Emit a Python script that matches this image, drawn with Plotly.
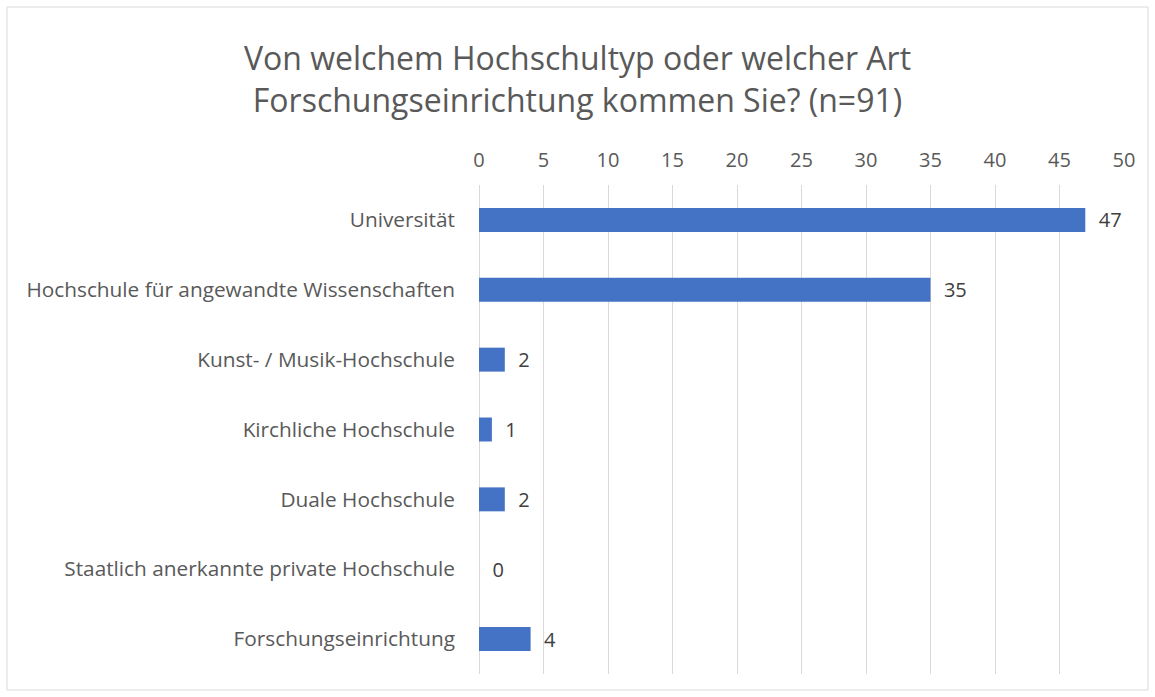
import plotly.graph_objects as go

categories = [
    "Universität",
    "Hochschule für angewandte Wissenschaften",
    "Kunst- / Musik-Hochschule",
    "Kirchliche Hochschule",
    "Duale Hochschule",
    "Staatlich anerkannte private Hochschule",
    "Forschungseinrichtung",
]
values = [47, 35, 2, 1, 2, 0, 4]
x_ticks = [0, 5, 10, 15, 20, 25, 30, 35, 40, 45, 50]
title_text = "Von welchem Hochschultyp oder welcher Art<br>Forschungseinrichtung kommen Sie? (n=91)"

FONT = "Open Sans"
GREY = "#595959"

fig = go.Figure(
    go.Bar(
        x=values,
        y=categories,
        orientation="h",
        marker=dict(color="#4472C4", line=dict(width=0)),
        text=values,
        texttemplate="\u00a0\u00a0%{x}",
        textposition="outside",
        constraintext="none",
        textfont=dict(family=FONT, size=20, color="#404040"),
        cliponaxis=False,
        hoverinfo="skip",
    )
)

W, H = 1155, 697
L, R, T, B = 479, 1124, 185, 674

def px(xp):
    return (xp - L) / (R - L)

def py(yp):
    return (B - yp) / (B - T)

fig.update_layout(
    width=W,
    height=H,
    margin=dict(l=L, r=W - R, t=T, b=H - B, autoexpand=False),
    paper_bgcolor="white",
    plot_bgcolor="white",
    bargap=0.657,
    showlegend=False,
    font=dict(family=FONT, color=GREY),
    title=dict(
        text=title_text,
        x=0.5,
        xref="container",
        xanchor="center",
        y=1 - 70 / H,
        yref="container",
        yanchor="top",
        font=dict(family=FONT, size=32, color=GREY),
    ),
    xaxis=dict(
        side="top",
        range=[0, 50],
        tickvals=x_ticks,
        showgrid=True,
        gridcolor="#d9d9d9",
        gridwidth=1,
        zeroline=True,
        zerolinecolor="#d9d9d9",
        zerolinewidth=1,
        showline=False,
        ticks="",
        tickfont=dict(family=FONT, size=20, color=GREY),
        ticklabelstandoff=13,
        fixedrange=True,
    ),
    yaxis=dict(
        autorange="reversed",
        showgrid=False,
        zeroline=False,
        showline=False,
        ticks="",
        tickfont=dict(family=FONT, size=20.8, color=GREY),
        ticklabelstandoff=23,
        fixedrange=True,
    ),
    shapes=[
        dict(
            type="rect",
            xref="paper",
            yref="paper",
            x0=px(7),
            x1=px(1148),
            y0=py(690),
            y1=py(7),
            line=dict(color="#d9d9d9", width=1),
            fillcolor="rgba(0,0,0,0)",
            layer="below",
        )
    ],
)

fig.write_html(
    "out.html",
    config={"displayModeBar": False},
    post_script="document.body.style.margin='0';document.body.style.padding='0';",
)
